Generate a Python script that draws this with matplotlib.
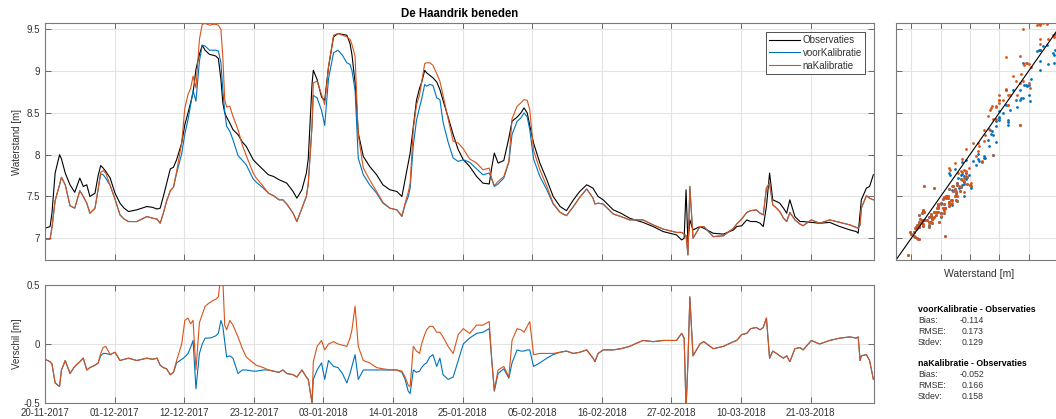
import numpy as np
import pandas as pd
import matplotlib
matplotlib.use("Agg")
import matplotlib.pyplot as plt
import matplotlib.dates as mdates
from matplotlib.ticker import FuncFormatter

plt.rcParams['font.family'] = ['Liberation Sans', 'DejaVu Sans']

# --- data -----------------------------------------------------------------
start = pd.Timestamp('2017-11-20')
end = pd.Timestamp('2018-03-31')

# time since start [days]
dag = [0.0, 0.8, 1.1, 1.6, 2.3, 2.6, 3.2, 3.95, 4.7, 5.5, 6.05, 6.6, 7.1, 7.9,
       8.4, 8.8, 9.2, 9.6, 10.3, 11.06, 11.85, 12.5, 13.2, 14.5, 16.1, 17.0,
       17.7, 18.2, 18.7, 19.2, 19.8, 20.3, 20.8, 21.6, 22.1, 22.6, 23.0, 23.4,
       23.85, 24.4, 24.85, 25.3, 26.0, 26.6, 27.0, 27.4, 27.8, 28.1, 28.4,
       28.7, 29.2, 29.7, 30.5, 31.2, 31.8, 32.9, 33.4, 34.5, 35.3, 36.1, 37.0,
       37.6, 38.2, 39.2, 39.8, 40.6, 41.3, 41.6, 41.9, 42.2, 42.4, 43.0, 43.7,
       44.2, 44.8, 45.6, 46.3, 47.0, 47.7, 48.2, 48.5, 49.0, 49.5, 50.3, 51.3,
       52.4, 53.4, 54.5, 55.6, 56.4, 56.9, 57.4, 57.7, 58.2, 58.7, 59.2, 59.5,
       60.0, 60.3, 60.8, 61.3, 61.9, 62.4, 62.9, 63.7, 64.5, 65.3, 66.1, 67.1,
       68.2, 69.2, 70.2, 70.6, 71.0, 71.6, 72.5, 73.3, 73.8, 74.6, 75.2, 75.7,
       76.2, 76.6, 77.2, 78.2, 79.3, 80.3, 81.4, 82.4, 83.5, 84.5, 85.6, 86.6,
       86.9, 87.4, 88.2, 89.8, 91.0, 92.4, 93.2, 94.5, 96.1, 97.7, 99.8, 100.6,
       101.0, 101.3, 101.6, 101.9, 102.4, 103.5, 104.1, 105.6, 107.2, 108.8,
       109.3, 110.1, 110.9, 111.5, 112.4, 113.0, 113.5, 114.0, 114.5, 115.0,
       115.6, 116.1, 116.7, 117.2, 117.7, 118.5, 119.3, 119.8, 121.1, 122.4,
       124.0, 125.6, 127.2, 128.2, 128.5, 128.8, 129.0, 129.8, 130.3, 130.9]

# observed water level [m]
observaties = [7.12, 7.14, 7.30, 7.78, 8.00, 7.95, 7.78, 7.64, 7.55, 7.72, 7.62,
               7.64, 7.50, 7.54, 7.75, 7.87, 7.84, 7.80, 7.72, 7.54, 7.42, 7.36,
               7.32, 7.34, 7.38, 7.37, 7.35, 7.36, 7.50, 7.65, 7.83, 7.85, 7.94,
               8.14, 8.36, 8.50, 8.62, 8.74, 9.02, 9.20, 9.31, 9.25, 9.20, 9.19,
               9.18, 9.15, 8.90, 8.62, 8.50, 8.45, 8.38, 8.30, 8.24, 8.15, 8.10,
               7.94, 7.90, 7.82, 7.76, 7.74, 7.70, 7.68, 7.66, 7.56, 7.48, 7.58,
               7.78, 7.95, 8.40, 8.85, 9.01, 8.90, 8.69, 8.65, 9.05, 9.41, 9.45,
               9.44, 9.43, 9.33, 9.20, 8.86, 8.26, 7.98, 7.86, 7.76, 7.64, 7.58,
               7.56, 7.50, 7.70, 7.90, 8.02, 8.33, 8.65, 8.80, 8.86, 9.01, 8.98,
               8.95, 8.92, 8.87, 8.78, 8.65, 8.45, 8.24, 8.06, 7.94, 7.86, 7.74,
               7.66, 7.65, 7.85, 8.02, 7.90, 7.93, 8.20, 8.40, 8.45, 8.50, 8.56,
               8.50, 8.35, 8.14, 7.90, 7.70, 7.50, 7.38, 7.33, 7.46, 7.56, 7.64,
               7.60, 7.56, 7.50, 7.46, 7.34, 7.30, 7.24, 7.22, 7.19, 7.14, 7.08,
               7.04, 6.98, 7.00, 7.58, 6.95, 7.22, 7.10, 7.14, 7.12, 7.06, 7.05,
               7.10, 7.14, 7.15, 7.22, 7.20, 7.20, 7.18, 7.14, 7.38, 7.78, 7.46,
               7.44, 7.42, 7.36, 7.30, 7.46, 7.26, 7.20, 7.20, 7.19, 7.18, 7.19,
               7.14, 7.10, 7.08, 7.06, 7.30, 7.46, 7.60, 7.62, 7.76]

# model minus observation, before calibration [m]
verschil_voor = [-0.13, -0.15, -0.17, -0.33, -0.36, -0.22, -0.14, -0.25, -0.19,
                 -0.15, -0.12, -0.22, -0.20, -0.18, -0.16, -0.10, -0.08, -0.08,
                 -0.09, -0.07, -0.14, -0.13, -0.12, -0.14, -0.12, -0.13, -0.12,
                 -0.18, -0.20, -0.21, -0.26, -0.24, -0.16, -0.13, -0.11, -0.08,
                 -0.03, 0.03, -0.38, -0.08, 0.00, 0.05, 0.05, 0.06, 0.07, 0.09,
                 0.20, 0.15, 0.02, -0.11, -0.10, -0.12, -0.25, -0.22, -0.22,
                 -0.23, -0.23, -0.22, -0.22, -0.23, -0.24, -0.22, -0.25, -0.26,
                 -0.28, -0.22, -0.28, -0.30, -0.40, -0.50, -0.30, -0.22, -0.16,
                 -0.30, -0.14, -0.19, -0.20, -0.25, -0.33, -0.25, -0.19, -0.09,
                 -0.30, -0.22, -0.22, -0.22, -0.22, -0.22, -0.22, -0.24, -0.30,
                 -0.40, -0.42, -0.22, -0.24, -0.23, -0.20, -0.17, -0.16, -0.11,
                 -0.09, -0.19, -0.12, -0.26, -0.30, -0.28, -0.14, 0.00, 0.05,
                 0.09, 0.10, 0.13, -0.14, -0.40, -0.25, -0.21, -0.29, -0.16,
                 -0.05, -0.06, -0.06, -0.05, -0.05, -0.19, -0.16, -0.12, -0.09,
                 -0.07, -0.06, -0.08, -0.07, -0.05, -0.12, -0.15, -0.08, -0.05,
                 -0.05, -0.04, -0.02, 0.00, 0.03, 0.02, 0.03, 0.03, 0.09, 0.05,
                 -0.55, -0.15, 0.40, -0.10, 0.00, 0.02, -0.04, -0.02, 0.02, 0.03,
                 0.08, 0.09, 0.13, 0.14, 0.12, 0.14, 0.22, -0.12, -0.06, -0.08,
                 -0.10, -0.12, -0.10, -0.15, -0.04, -0.03, -0.05, 0.03, 0.00,
                 0.03, 0.05, 0.06, 0.05, 0.06, -0.14, -0.10, -0.09, -0.14, -0.30]

# model minus observation, after calibration [m]
verschil_na = [-0.13, -0.15, -0.17, -0.33, -0.36, -0.22, -0.14, -0.25, -0.19,
               -0.15, -0.12, -0.22, -0.20, -0.18, -0.16, -0.08, -0.03, -0.02,
               -0.09, -0.07, -0.14, -0.13, -0.12, -0.14, -0.12, -0.13, -0.12,
               -0.18, -0.20, -0.21, -0.26, -0.24, -0.14, 0.00, 0.20, 0.22, 0.17,
               0.20, -0.22, 0.18, 0.25, 0.32, 0.35, 0.37, 0.38, 0.40, 0.60, 0.55,
               0.16, 0.12, 0.20, 0.16, 0.06, -0.04, -0.11, -0.16, -0.18, -0.20,
               -0.22, -0.23, -0.24, -0.22, -0.25, -0.26, -0.28, -0.22, -0.28,
               -0.30, -0.40, -0.50, -0.15, -0.02, 0.03, -0.05, 0.00, 0.02, 0.00,
               -0.01, -0.02, 0.05, 0.12, 0.32, -0.02, -0.14, -0.16, -0.20, -0.21,
               -0.22, -0.22, -0.23, -0.28, -0.35, -0.36, -0.02, -0.06, -0.08,
               0.00, 0.08, 0.12, 0.15, 0.15, 0.10, 0.10, 0.06, -0.02, -0.08,
               0.08, 0.13, 0.09, 0.16, 0.16, 0.19, -0.14, -0.39, -0.22, -0.19,
               -0.28, 0.03, 0.13, 0.12, 0.10, 0.15, 0.19, -0.09, -0.08, -0.08,
               -0.08, -0.07, -0.06, -0.08, -0.07, -0.05, -0.12, -0.15, -0.08,
               -0.05, -0.05, -0.04, -0.02, 0.00, 0.03, 0.02, 0.03, 0.03, 0.09,
               0.05, -0.55, -0.15, 0.40, -0.10, 0.00, 0.02, -0.04, -0.02, 0.02,
               0.03, 0.08, 0.09, 0.13, 0.14, 0.12, 0.14, 0.22, -0.12, -0.06,
               -0.08, -0.10, -0.12, -0.10, -0.15, -0.04, -0.03, -0.05, 0.03,
               0.00, 0.03, 0.05, 0.06, 0.05, 0.06, -0.14, -0.10, -0.09, -0.14,
               -0.30]

stat_namen = ['Bias:', 'RMSE:', 'Stdev:']
stats_voor = [-0.114, 0.173, 0.129]
stats_na = [-0.052, 0.166, 0.158]

# --- derived series ---------------------------------------------------------
tijd = start + pd.to_timedelta(np.array(dag), unit='D')
obs = np.array(observaties)
voor = obs + np.array(verschil_voor)
na = obs + np.array(verschil_na)

C_OBS = 'black'
C_VOOR = '#0072BD'
C_NA = '#D95319'
C_AX = '#333333'
C_GRID = '#e3e3e3'
LW = 0.8
FS = 7

W, H = 1056, 419
fig = plt.figure(figsize=(W / 100, H / 100), dpi=100)


def rect(x0, y0, x1, y1):
    return [x0 / W, 1 - y1 / H, (x1 - x0) / W, (y1 - y0) / H]


def style(ax):
    for s in ax.spines.values():
        s.set_color('#7a7a7a')
        s.set_linewidth(0.8)
    ax.tick_params(direction='in', length=4, width=0.6, labelcolor=C_AX,
                   labelsize=FS, top=True, right=True, color='#555555')
    ax.grid(True, color=C_GRID, linewidth=0.8)
    ax.set_axisbelow(True)


ax1 = fig.add_axes(rect(45, 23.5, 874, 260))
ax2 = fig.add_axes(rect(45, 285, 874, 403))
ax3 = fig.add_axes(rect(896, 23.5, 1062, 260))

xticks = pd.date_range(start, end, freq='11D')
fmt_g = FuncFormatter(lambda v, p: f'{v:g}')

# upper panel: water levels
ax1.plot(tijd, obs, color=C_OBS, lw=LW, label='Observaties')
ax1.plot(tijd, voor, color=C_VOOR, lw=LW, label='voorKalibratie')
ax1.plot(tijd, na, color=C_NA, lw=LW, label='naKalibratie')
ax1.set_xlim(start, end)
ax1.set_ylim(6.74, 9.57)
ax1.set_yticks([7, 7.5, 8, 8.5, 9, 9.5])
ax1.yaxis.set_major_formatter(fmt_g)
ax1.set_xticks(xticks)
ax1.set_xticklabels([])
ax1.set_ylabel('Waterstand [m]', fontsize=FS, color=C_AX, labelpad=3)
ax1.set_title('De Haandrik beneden', fontsize=8.3, fontweight='bold',
              color='black', pad=5)
style(ax1)
leg = ax1.legend(loc='upper right', bbox_to_anchor=(865 / W, 1 - 32 / H),
                 bbox_transform=fig.transFigure, borderaxespad=0,
                 fontsize=FS, fancybox=False, framealpha=1, handlelength=3.2,
                 handletextpad=0.3, labelspacing=0.3, borderpad=0.3)
leg.get_frame().set_edgecolor(C_AX)
leg.get_frame().set_linewidth(0.6)
for t in leg.get_texts():
    t.set_color(C_AX)

# lower panel: differences
ax2.plot(tijd, voor - obs, color=C_VOOR, lw=LW)
ax2.plot(tijd, na - obs, color=C_NA, lw=LW)
ax2.set_xlim(start, end)
ax2.set_ylim(-0.5, 0.5)
ax2.set_yticks([-0.5, 0, 0.5])
ax2.yaxis.set_major_formatter(fmt_g)
ax2.set_xticks(xticks)
ax2.xaxis.set_major_formatter(mdates.DateFormatter('%d-%m-%Y'))
ax2.set_ylabel('Verschil [m]', fontsize=FS, color=C_AX, labelpad=1)
style(ax2)

# scatter panel: model against observation
lims = (6.74, 9.57)
ax3.plot(obs, voor, '.', color=C_VOOR, ms=4, mew=0)
ax3.plot(obs, na, '.', color=C_NA, ms=4, mew=0)
ax3.plot(lims, lims, color='black', lw=0.8)
ax3.set_xlim(lims)
ax3.set_ylim(lims)
ax3.set_xticks([7, 7.5, 8, 8.5, 9, 9.5])
ax3.set_yticks([7, 7.5, 8, 8.5, 9, 9.5])
ax3.set_xticklabels([])
ax3.set_yticklabels([])
ax3.set_xlabel('Waterstand [m]', fontsize=7.5, color=C_AX, labelpad=3)
style(ax3)

# statistics block
x_lbl, x_val = 918 / W, 984 / W
FS_STAT = 6.3
blokken = [('voorKalibratie - Observaties', stats_voor, 309),
           ('naKalibratie - Observaties', stats_na, 363)]
for kop, waarden, y0 in blokken:
    fig.text(x_lbl, 1 - y0 / H, kop, fontsize=FS_STAT, fontweight='bold',
             color='black', va='center', ha='left')
    for i, (naam, w) in enumerate(zip(stat_namen, waarden)):
        yy = 1 - (y0 + 11.2 * (i + 1)) / H
        fig.text(x_lbl, yy, naam, fontsize=FS_STAT, color=C_AX, va='center',
                 ha='left')
        fig.text(x_val, yy, f'{w:.3f}', fontsize=FS_STAT, color=C_AX,
                 va='center', ha='right')

fig.savefig('out.png', dpi=100)
